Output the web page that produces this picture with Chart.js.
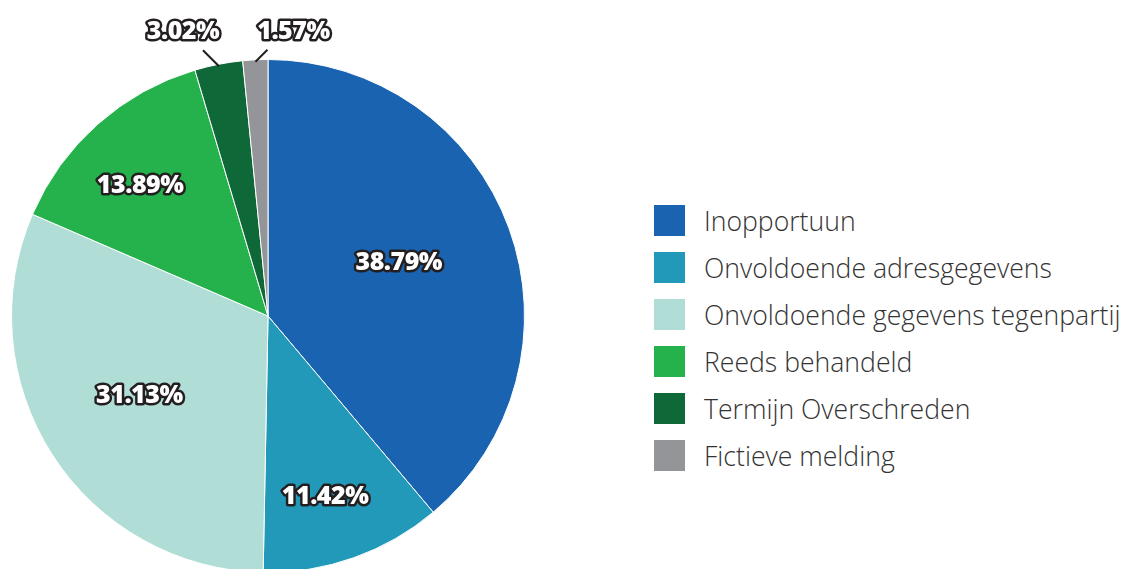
<!DOCTYPE html>
<html>
<head>
<meta charset="utf-8">
<script src="https://cdn.jsdelivr.net/npm/chart.js@4/dist/chart.umd.min.js"></script>
<style>
  html, body { margin: 0; padding: 0; background: #fff; overflow: hidden; }
  #wrap { position: relative; width: 1127px; height: 569px; overflow: hidden; }
  #pie { position: absolute; left: 0; top: 0; }
  #legend { position: absolute; left: 654px; top: 205px; font-family: "Open Sans", sans-serif; }
  .row { display: flex; align-items: center; height: 31px; margin-bottom: 16px; }
  .box { width: 31px; height: 31px; flex: none; }
  .txt { margin-left: 19px; font-size: 26.6px; font-weight: 300; color: #333; white-space: nowrap; }
</style>
</head>
<body>
<div id="wrap">
  <canvas id="pie" width="536" height="632"></canvas>
  <div id="legend"></div>
</div>
<script>
// categories and values (percent)
const categories = [
    'Inopportuun',
    'Onvoldoende adresgegevens',
    'Onvoldoende gegevens tegenpartij',
    'Reeds behandeld',
    'Termijn Overschreden',
    'Fictieve melding'
];
const shares = [38.79, 11.42, 31.13, 13.89, 3.02, 1.57];
const sliceColors = ['#1A63B0', '#2299B8', '#B0DED6', '#25B24C', '#0F6838', '#939598'];

// where each label sits: fraction of radius + small angle nudge (deg) inside, or a callout outside
const labelRadius = [0.55, 0.74, 0.59, 0.71, null, null];
const labelNudge = [-2, 2, 1, -3, 0, 0];
const callouts = [null, null, null, null, { lx: -16, ly: -16, tx: -20, ty: -18 }, { lx: 12, ly: -12, tx: 26, ty: -18 }];

const pctLabels = {
    id: 'pctLabels',
    afterDatasetsDraw(chart) {
        const ctx = chart.ctx;
        const arcs = chart.getDatasetMeta(0).data;
        ctx.save();
        ctx.font = '800 25px "Open Sans"';
        ctx.letterSpacing = '-0.5px';
        ctx.textAlign = 'center';
        ctx.textBaseline = 'middle';
        ctx.lineJoin = 'round';
        arcs.forEach((arc, i) => {
            const p = arc.getProps(['x', 'y', 'startAngle', 'endAngle', 'outerRadius'], true);
            const mid = (p.startAngle + p.endAngle) / 2 + labelNudge[i] * Math.PI / 180;
            const text = shares[i].toFixed(2) + '%';
            let tx, ty;
            if (labelRadius[i] != null) {
                tx = p.x + Math.cos(mid) * p.outerRadius * labelRadius[i];
                ty = p.y + Math.sin(mid) * p.outerRadius * labelRadius[i];
            } else {
                const c = callouts[i];
                const sx = p.x + Math.cos(mid) * (p.outerRadius - 2);
                const sy = p.y + Math.sin(mid) * (p.outerRadius - 2);
                ctx.beginPath();
                ctx.moveTo(sx, sy);
                ctx.lineTo(sx + c.lx, sy + c.ly);
                ctx.lineWidth = 2;
                ctx.strokeStyle = '#231f20';
                ctx.stroke();
                tx = sx + c.lx + c.tx;
                ty = sy + c.ly + c.ty;
            }
            ctx.lineWidth = 5;
            ctx.strokeStyle = '#231f20';
            ctx.strokeText(text, tx, ty);
            ctx.fillStyle = '#ffffff';
            ctx.fillText(text, tx, ty);
        });
        ctx.restore();
    }
};

function buildLegend() {
    const legend = document.getElementById('legend');
    legend.innerHTML = categories.map((name, i) =>
        `<div class="row"><div class="box" style="background:${sliceColors[i]}"></div><div class="txt">${name}</div></div>`
    ).join('');
}

function drawChart() {
    new Chart(document.getElementById('pie'), {
        type: 'pie',
        data: {
            labels: categories,
            datasets: [{
                data: shares,
                backgroundColor: sliceColors,
                borderColor: '#ffffff',
                borderWidth: 1
            }]
        },
        options: {
            responsive: false,
            animation: false,
            layout: { padding: 11 },
            plugins: { legend: { display: false }, tooltip: { enabled: false } }
        },
        plugins: [pctLabels]
    });
}

buildLegend();
document.fonts.load('800 25px "Open Sans"').then(drawChart, drawChart);
</script>
</body>
</html>
